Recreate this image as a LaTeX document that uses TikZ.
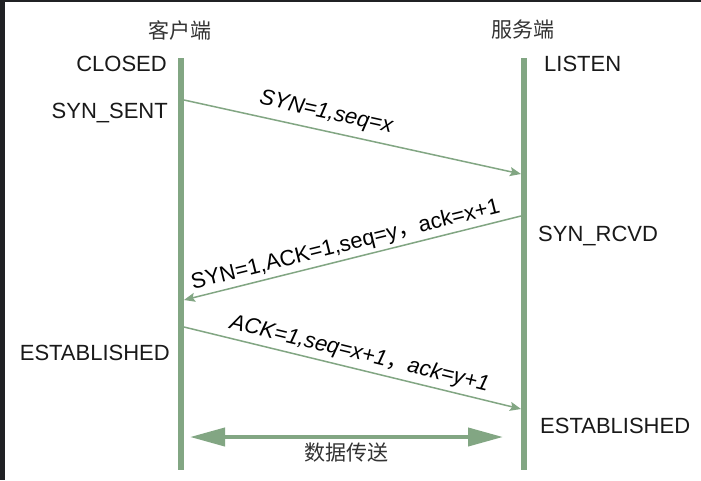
\documentclass[tikz,border=0pt]{standalone}
\usepackage{fontspec}
\setmainfont{Liberation Sans}
\newfontfamily\cjk{Noto Sans CJK SC}
\usepackage{xcolor}
\usepackage{tikz}
\usetikzlibrary{positioning, arrows.meta}
\definecolor{lifegreen}{RGB}{130,166,131}
\definecolor{framegray}{RGB}{32,33,36}

\begin{document}
\begin{tikzpicture}[
                x=1pt, y=-1pt,
                lifeline/.style={draw=lifegreen, line width=6pt},
                msg/.style={draw=lifegreen, line width=1.5pt, -{Stealth[length=11pt, width=9pt, inset=2pt]}},
                datalink/.style={draw=lifegreen, line width=4pt, {Triangle[length=35pt, width=18pt]}-{Triangle[length=35pt, width=18pt]}},
                msglabel/.style={font=\fontsize{22}{26}\selectfont, sloped, inner sep=2pt},
                slantlabel/.style={font=\fontsize{22}{26}\selectfont\itshape, sloped, inner sep=2pt},
                state/.style={font=\fontsize{22}{26}\selectfont, text=black!90, inner sep=0pt},
                side/.style={font=\cjk\fontsize{21}{25}\selectfont, text=black!80, inner sep=0pt}
                ]

                % 背景
                \fill[framegray] (0,0) rectangle (701,480);
                \fill[white] (5,2) rectangle (701,480);
                \useasboundingbox (0,0) rectangle (701,480);

                % 生命线
                \coordinate (cTop) at (181,58);
                \coordinate (cBot) at (181,470);
                \coordinate (sTop) at (524,58);
                \coordinate (sBot) at (524,470);
                \draw[lifeline] (cTop) -- (cBot);
                \draw[lifeline] (sTop) -- (sBot);

                \node[side] (client) at (180,30) {客户端};
                \node[side] (server) at (523,30) {服务端};

                % 状态
                \node[state, anchor=base east] (closed) at (167,71) {CLOSED};
                \node[state, anchor=base east] (synsent) at (168,118) {SYN\_SENT};
                \node[state, anchor=base east] (estc) at (170,360) {ESTABLISHED};
                \node[state, anchor=base west] (listen) at (544,71) {LISTEN};
                \node[state, anchor=base west] (synrcvd) at (538,241) {SYN\_RCVD};
                \node[state, anchor=base west] (ests) at (540,433) {ESTABLISHED};

                % 三次握手
                \coordinate (syn1) at (184,100);
                \coordinate (syn2) at (521,174);
                \coordinate (sa1) at (521,216);
                \coordinate (sa2) at (184,300);
                \coordinate (ack1) at (184,327);
                \coordinate (ack2) at (521,409);
                \draw[msg] (syn1) -- node[slantlabel, above=5pt, pos=0.41] {SYN=1,seq=x} (syn2);
                \draw[msg] (sa1) -- node[msglabel, above=1pt, pos=0.51] {SYN=1,ACK=1,seq=y{\cjk ，}ack=x+1} (sa2);
                \draw[msg] (ack1) -- node[slantlabel, above=2pt, pos=0.51] {ACK=1,seq=x+1{\cjk\upshape ，}ack=y+1} (ack2);

                % 数据传送
                \coordinate (dataL) at (190,437);
                \coordinate (dataR) at (503,437);
                \draw[datalink] (dataL) -- node[side, below=4pt] (data) {数据传送} (dataR);
            \end{tikzpicture}
\end{document}
